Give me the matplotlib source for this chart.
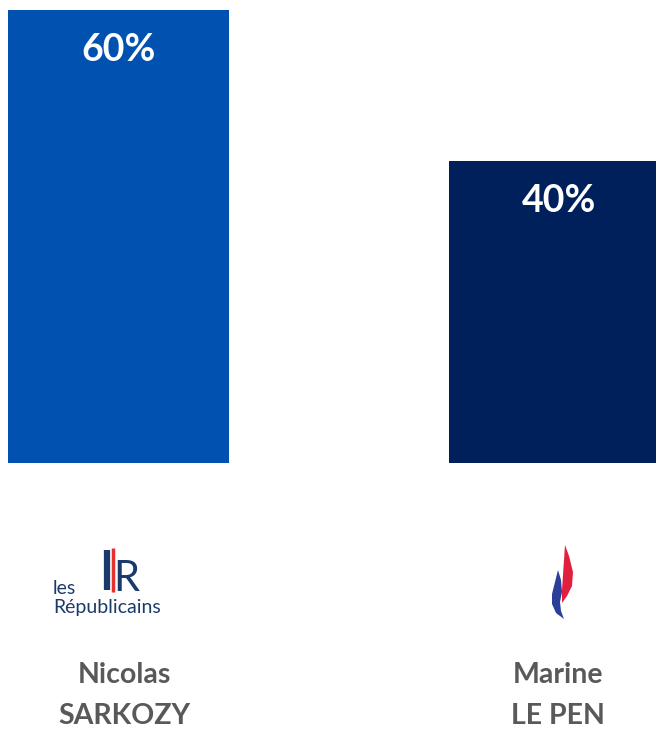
import matplotlib
matplotlib.use('Agg')
import matplotlib.pyplot as plt
from matplotlib.patches import Polygon

# data
first_names = ['Nicolas', 'Marine']
last_names = ['SARKOZY', 'LE PEN']
values = [60, 40]
labels = ['60%', '40%']
colors = ['#0152B0', '#00205B']

W, H = 656, 731
fig = plt.figure(figsize=(W / 100, H / 100), dpi=100)
fig.patch.set_facecolor('white')

# bar axes: baseline at y=463px, top of 60% at y=10px
ax = fig.add_axes([0, (H - 463) / H, 1, 453 / H])
x = [0, 1]
ax.bar(x, values, width=0.5, color=colors)
ax.set_ylim(0, 60)
ax.set_xlim(-118.5 / 441, (W - 118.5) / 441)
ax.axis('off')

for xi, v, lab in zip(x, values, labels):
    ax.text(xi, v - 5.3, lab, ha='center', va='center', color='white',
            fontsize=27, fontweight='bold', family='Lato')

# overlay in pixel coordinates for names and logos
ov = fig.add_axes([0, 0, 1, 1])
ov.set_xlim(0, W)
ov.set_ylim(H, 0)
ov.axis('off')

name_x = [124, 558]
for nx, fn, ln in zip(name_x, first_names, last_names):
    ov.text(nx, 683, fn, ha='center', va='baseline', color='#595959',
            fontsize=20.5, fontweight='bold', family='Lato')
    ov.text(nx, 724, ln, ha='center', va='baseline', color='#595959',
            fontsize=20.5, fontweight='bold', family='Lato')

# Les Republicains logo
navy = '#1B3A6B'
ov.text(53, 594, 'les', ha='left', va='baseline', color=navy, fontsize=14, family='Lato')
ov.text(53, 613, 'Républicains', ha='left', va='baseline', color=navy, fontsize=14, family='Lato')
ov.plot([107, 107], [550, 590], color=navy, lw=4.5, solid_capstyle='butt')
ov.plot([112.5, 112.5], [548, 592], color='#E4312F', lw=2.5, solid_capstyle='butt')
ov.text(113, 591, 'R', ha='left', va='baseline', color=navy, fontsize=30, family='Lato')

# flame logo
red_flame = [(565, 545), (569, 556), (573, 572), (572, 586), (567, 596), (562, 603),
             (562, 590), (563, 575), (564, 560)]
blue_flame = [(558, 570), (561, 580), (562, 592), (560, 602), (561, 611), (564, 619),
              (556, 613), (552, 604), (552, 594), (555, 582)]
ov.add_patch(Polygon(red_flame, closed=True, color='#E0203E', lw=0))
ov.add_patch(Polygon(blue_flame, closed=True, color='#2B3E9A', lw=0))

fig.savefig('out.png', dpi=100, facecolor='white')
